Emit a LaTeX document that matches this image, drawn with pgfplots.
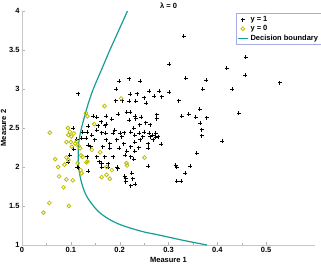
\documentclass[border=0pt]{standalone}
\usepackage{fontspec}
\setmainfont{Liberation Sans}
\usepackage{pgfplots}
\pgfplotsset{compat=1.18}
\definecolor{teal1}{RGB}{22,158,150}
\definecolor{yel}{RGB}{190,190,0}
\definecolor{legbord}{RGB}{170,170,230}
\pgfplotsset{
  shortmark/.style={legend image code/.code={\draw[mark repeat=2,mark phase=2,##1] plot coordinates {(0cm,0cm)(0.18cm,0cm)(0.36cm,0cm)};}},
  shortline/.style={legend image code/.code={\draw[##1] (0cm,0cm) -- (0.36cm,0cm);}},
}
\begin{document}
\begin{tikzpicture}
\begin{axis}[
  at={(0,0)}, anchor=south west,
  scale only axis, width=293pt, height=234pt,
  xmin=0, xmax=0.6, ymin=1, ymax=4,
  axis lines*=left,
  axis line style={draw=gray!45},
  xtick={0,0.1,0.2,0.3,0.4,0.5},
  ytick={1,1.5,2,2.5,3,3.5,4},
  minor x tick num=1,
  tick style={draw=gray!60},
  tick align=inside,
  major tick length=3pt, minor tick length=2pt,
  /pgf/number format/assume math mode=true,
  tick label style={font=\bfseries\fontsize{7.5}{8.5}\selectfont},
  xticklabel style={yshift=1pt},
  yticklabel style={xshift=1pt},
  xlabel={Measure 1}, ylabel={Measure 2},
  label style={font=\bfseries\fontsize{7.5}{8.5}\selectfont},
  xlabel style={yshift=2pt},
  ylabel style={yshift=-4pt},
  legend style={at={(0.73,0.991)}, anchor=north west, draw=legbord,
    font=\bfseries\fontsize{7.5}{8.5}\selectfont, inner sep=1pt, row sep=-1.5pt,
    cells={anchor=west}},
  legend cell align=left,
  clip=false,
]
\addplot[only marks, mark=+, mark size=2pt, black, mark options={line width=0.8pt}, shortmark] coordinates {
(0.115,2.94)(0.199,3.10)(0.220,3.13)(0.242,3.10)(0.193,3.00)(0.302,3.32)(0.331,3.68)(0.335,3.14)
(0.370,3.00)(0.377,3.11)(0.419,3.27)(0.431,3.00)(0.457,3.18)(0.458,3.41)(0.528,3.08)(0.444,2.69)
(0.410,2.33)(0.378,2.63)(0.365,2.56)(0.368,2.48)(0.368,2.40)(0.364,2.74)(0.356,2.64)(0.358,2.18)
(0.341,2.68)(0.327,2.65)(0.321,2.85)(0.301,2.96)(0.315,2.02)(0.317,2.00)(0.334,1.92)(0.345,2.01)
(0.317,1.82)(0.326,1.82)(0.285,2.29)(0.279,2.39)(0.276,2.62)(0.276,2.67)(0.274,2.43)(0.262,2.39)
(0.259,2.24)(0.259,2.01)(0.261,2.97)(0.271,2.91)(0.281,2.97)(0.286,2.90)(0.250,2.89)(0.254,2.82)
(0.233,2.84)(0.220,2.84)(0.221,2.93)(0.236,2.94)(0.192,2.85)(0.205,2.85)(0.197,2.68)(0.214,2.70)
(0.222,2.70)(0.232,2.65)(0.233,2.62)(0.244,2.64)(0.241,2.54)(0.253,2.57)(0.262,2.54)(0.250,2.45)
(0.247,2.39)(0.242,2.35)(0.231,2.41)(0.229,2.50)(0.223,2.45)(0.209,2.44)(0.204,2.39)(0.190,2.47)
(0.187,2.43)(0.194,2.35)(0.199,2.24)(0.187,2.13)(0.184,2.61)(0.172,2.55)(0.170,2.53)(0.172,2.65)
(0.162,2.58)(0.156,2.53)(0.153,2.47)(0.163,2.44)(0.171,2.43)(0.173,2.35)(0.165,2.26)(0.149,2.35)
(0.143,2.41)(0.136,2.52)(0.134,2.45)(0.131,2.37)(0.136,2.28)(0.141,2.26)(0.153,2.13)(0.158,2.07)
(0.163,2.05)(0.169,2.13)(0.177,2.04)(0.163,2.00)(0.177,2.00)(0.195,2.00)(0.196,1.98)(0.153,2.64)
(0.146,2.65)(0.134,2.13)(0.136,1.95)(0.113,2.00)(0.115,1.99)(0.106,2.23)(0.112,2.36)(0.105,2.50)
(0.098,2.15)(0.095,2.06)(0.122,2.37)(0.124,2.45)(0.211,2.15)(0.214,2.20)(0.223,2.26)(0.223,2.13)
(0.231,2.20)(0.229,2.10)(0.231,2.32)(0.239,2.25)(0.240,2.43)(0.210,1.88)(0.212,1.85)(0.212,1.81)
(0.225,1.92)(0.227,1.85)(0.223,1.76)(0.232,1.78)(0.201,2.43)(0.180,2.30)(0.180,2.24)(0.208,2.30)
(0.220,2.60)(0.261,2.43)(0.268,2.41)(0.274,2.38)(0.269,2.35)(0.259,2.30)
};
\addlegendentry{y = 1}
\addplot[only marks, mark=o, mark size=1.9pt, mark options={draw=yel, line width=0.8pt}, shortmark] coordinates {
(0.044,1.415)(0.056,1.54)(0.096,1.50)(0.057,2.44)(0.068,2.10)(0.074,2.00)(0.076,1.88)(0.085,1.74)
(0.087,2.03)(0.091,1.84)(0.091,2.12)(0.095,2.09)(0.104,1.83)(0.094,2.50)(0.091,2.32)(0.095,2.41)
(0.098,2.45)(0.101,2.39)(0.106,2.43)(0.102,2.26)(0.100,2.32)(0.109,2.30)(0.112,2.33)(0.119,2.24)
(0.114,2.05)(0.120,1.96)(0.122,1.92)(0.121,2.15)(0.131,2.69)(0.134,2.65)(0.148,2.55)(0.132,2.06)
(0.134,2.07)(0.143,2.22)(0.160,2.19)(0.163,1.87)(0.169,2.78)(0.173,2.00)(0.173,1.90)(0.180,1.85)
(0.184,1.96)(0.203,2.88)(0.214,2.05)(0.215,2.02)(0.251,2.12)(0.124,2.13)(0.116,2.27)
};
\addlegendentry{y = 0}
\addplot[teal1, line width=1.2pt, smooth, tension=0.6, shortline] coordinates {
(0.216,4.0)(0.198,3.75)(0.180,3.5)(0.163,3.25)(0.146,3.0)(0.135,2.8)(0.126,2.6)(0.120,2.45)
(0.116,2.3)(0.115,2.15)(0.116,2.0)(0.120,1.85)(0.127,1.70)(0.138,1.57)(0.160,1.41)(0.194,1.28)
(0.242,1.18)(0.279,1.13)(0.33,1.06)(0.379,1.0)
};
\addlegendentry{Decision boundary}
\end{axis}
\node[anchor=base, font=\bfseries\fontsize{7.5}{8.5}\selectfont] at (146.5pt,237pt) {λ = 0};
\pgfresetboundingbox
\path[use as bounding box] (-22pt,-21pt) rectangle (299pt,245pt);
\end{tikzpicture}
\end{document}
